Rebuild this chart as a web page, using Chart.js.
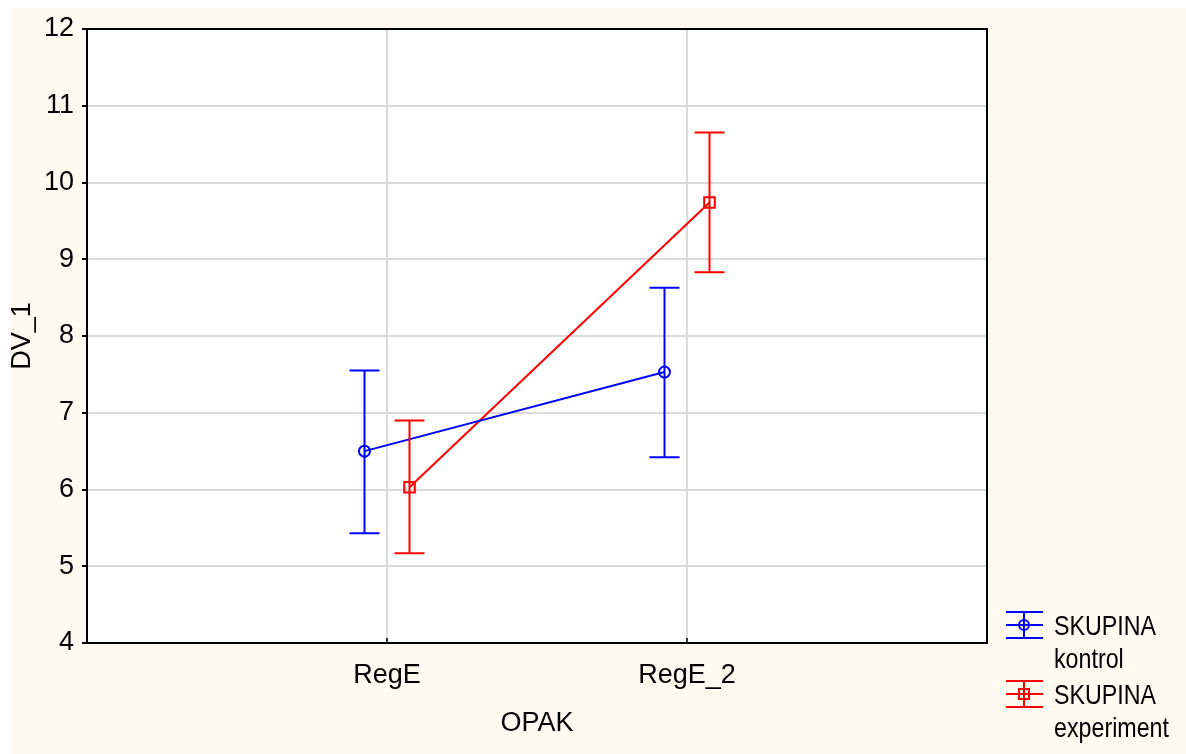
<!DOCTYPE html>
<html>
<head>
<meta charset="utf-8">
<script src="https://cdn.jsdelivr.net/npm/chart.js@4/dist/chart.umd.min.js"></script>
<style>
  html, body { margin: 0; padding: 0; background: #ffffff; }
  #wrap { width: 1186px; height: 754px; }
</style>
</head>
<body>
<div id="wrap"><canvas id="chart" width="1186" height="754"></canvas></div>
<script>
const categories = ['RegE', 'RegE_2'];
const yTicks = [4, 5, 6, 7, 8, 9, 10, 11, 12];

const kontrolMean = [6.50, 7.53];
const kontrolLow = [5.43, 6.42];
const kontrolHigh = [7.55, 8.63];

const experimentMean = [6.03, 9.74];
const experimentLow = [5.17, 8.83];
const experimentHigh = [6.90, 10.65];

const FONT = '"Liberation Sans", Arial, sans-serif';
const blue = '#0000ff';
const red = '#ff0000';
const dodge = 0.075;

function points(means, shift) {
    return means.map((v, i) => ({ x: i + 1 + shift, y: v }));
}

const series = [
    { name: ['SKUPINA', 'kontrol'], color: blue, marker: 'circle', mean: kontrolMean, low: kontrolLow, high: kontrolHigh, shift: -dodge },
    { name: ['SKUPINA', 'experiment'], color: red, marker: 'rect', mean: experimentMean, low: experimentLow, high: experimentHigh, shift: dodge },
];

const frame = {
    id: 'frame',
    beforeDraw(chart) {
        const { ctx, chartArea: a } = chart;
        ctx.save();
        ctx.fillStyle = '#fffaef';
        ctx.fillRect(11, 8, chart.width - 11, chart.height - 8);
        ctx.fillStyle = '#ffffff';
        ctx.fillRect(a.left, a.top, a.right - a.left, a.bottom - a.top);
        ctx.restore();
    },
    afterDatasetsDraw(chart) {
        const { ctx, chartArea: a } = chart;
        const xs = chart.scales.x, ys = chart.scales.y;
        ctx.save();
        // error bars
        series.forEach((s) => {
            ctx.strokeStyle = s.color;
            ctx.lineWidth = 2;
            s.mean.forEach((m, i) => {
                const px = xs.getPixelForValue(i + 1 + s.shift);
                const top = ys.getPixelForValue(s.high[i]);
                const bot = ys.getPixelForValue(s.low[i]);
                ctx.beginPath();
                ctx.moveTo(px, top); ctx.lineTo(px, bot);
                ctx.moveTo(px - 15, top); ctx.lineTo(px + 15, top);
                ctx.moveTo(px - 15, bot); ctx.lineTo(px + 15, bot);
                ctx.stroke();
            });
        });
        // frame
        ctx.strokeStyle = '#000000';
        ctx.lineWidth = 2;
        ctx.strokeRect(a.left, a.top, a.right - a.left, a.bottom - a.top);
        // inward x tick marks
        ctx.beginPath();
        categories.forEach((c, i) => {
            const px = xs.getPixelForValue(i + 1);
            ctx.moveTo(px, a.bottom); ctx.lineTo(px, a.bottom - 5);
        });
        ctx.lineWidth = 1.5;
        ctx.stroke();
        // legend
        series.forEach((s, k) => {
            const cy = 625 + k * 69;
            const cx = 1024;
            ctx.strokeStyle = s.color;
            ctx.lineWidth = 2;
            ctx.beginPath();
            [-13, 0, 13].forEach((d) => { ctx.moveTo(1006, cy + d); ctx.lineTo(1043, cy + d); });
            ctx.moveTo(cx, cy - 13); ctx.lineTo(cx, cy + 13);
            ctx.stroke();
            ctx.beginPath();
            if (s.marker === 'circle') ctx.arc(cx, cy, 5, 0, Math.PI * 2);
            else ctx.rect(cx - 5, cy - 5, 10, 10);
            ctx.stroke();
            // condensed text, like the narrow face of the original
            ctx.save();
            ctx.translate(1054, cy);
            ctx.scale(0.83, 1);
            ctx.font = '28px ' + FONT;
            ctx.textBaseline = 'middle';
            ctx.fillStyle = '#000000';
            ctx.fillText(s.name[0], 0, 2);
            ctx.fillText(s.name[1], 0, 35);
            ctx.restore();
        });
        ctx.restore();
    },
};

new Chart(document.getElementById('chart'), {
    type: 'line',
    data: {
        datasets: series.map((s) => ({
            label: s.name.join(' '),
            data: points(s.mean, s.shift),
            borderColor: s.color,
            backgroundColor: 'rgba(0,0,0,0)',
            borderWidth: 2,
            pointStyle: s.marker,
            pointRadius: s.marker === 'rect' ? 7.5 : 5.5,
            pointBorderWidth: 2,
            pointBorderColor: s.color,
            pointBackgroundColor: 'rgba(0,0,0,0)',
            tension: 0,
        })),
    },
    options: {
        responsive: false,
        animation: false,
        layout: { autoPadding: false, padding: { left: 0, top: 29, right: 199, bottom: 0 } },
        plugins: { legend: { display: false }, tooltip: { enabled: false } },
        scales: {
            x: {
                type: 'linear',
                min: 0,
                max: 3,
                afterBuildTicks: (scale) => { scale.ticks = categories.map((c, i) => ({ value: i + 1 })); },
                afterFit: (scale) => { scale.height = 111; },
                ticks: {
                    callback: (v) => categories[v - 1] || '',
                    color: '#000000',
                    font: { family: FONT, size: 27 },
                    padding: 16,
                    maxRotation: 0,
                },
                grid: { color: '#dadada', lineWidth: 2, drawTicks: false },
                border: { color: '#000000', width: 2 },
                title: { display: true, text: 'OPAK', color: '#000000', font: { family: FONT, size: 27 }, padding: { bottom: 14 } },
            },
            y: {
                min: 4,
                max: 12,
                afterBuildTicks: (scale) => { scale.ticks = yTicks.map((v) => ({ value: v })); },
                afterFit: (scale) => { scale.width = 87; },
                ticks: {
                    color: '#000000',
                    font: { family: FONT, size: 27 },
                    padding: 8,
                },
                grid: { color: '#dadada', lineWidth: 2, tickColor: '#000000', tickLength: 5 },
                border: { color: '#000000', width: 2 },
                title: { display: true, text: 'DV_1', color: '#000000', font: { family: FONT, size: 27 }, padding: { top: 6 } },
            },
        },
    },
    plugins: [frame],
});
</script>
</body>
</html>
